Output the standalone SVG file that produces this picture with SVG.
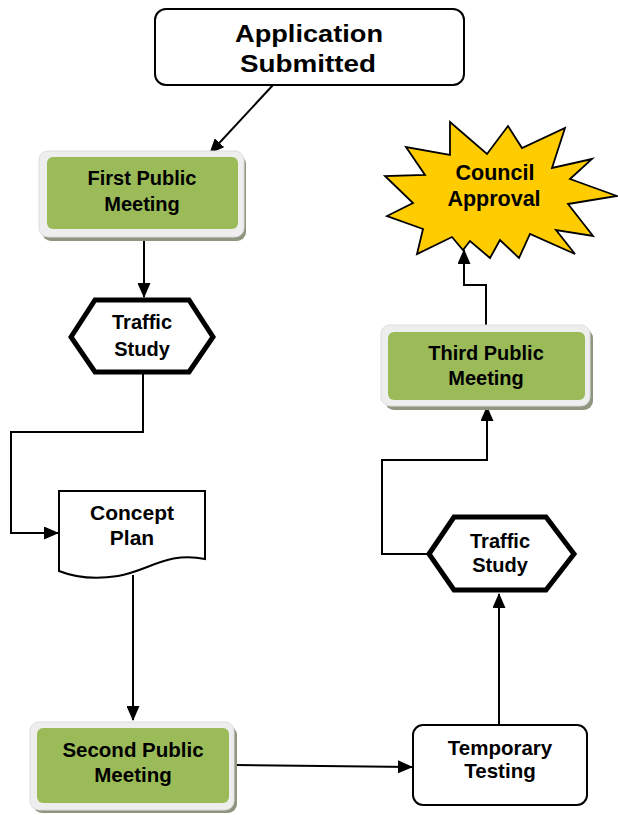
<svg xmlns="http://www.w3.org/2000/svg" width="618" height="815" viewBox="0 0 618 815">
<defs>
<marker id="ah" markerUnits="userSpaceOnUse" markerWidth="15" markerHeight="13" refX="14" refY="6.5" orient="auto">
<path d="M0,0 L15,6.5 L0,13 Z" fill="#000"/>
</marker>
<style>
.t{font-family:"Liberation Sans",Arial,sans-serif;font-weight:bold;text-anchor:middle;fill:#000}
.box{fill:#fff;stroke:#000;stroke-width:2}
.hex{fill:#fff;stroke:#000;stroke-width:5;stroke-linejoin:miter}
.shadow{fill:#8e9680}
.frame{fill:#eeeeee;stroke:#dcdcdc;stroke-width:1}
.green{fill:#9bbb59}
.conn{fill:none;stroke:#000;stroke-width:2;marker-end:url(#ah)}
</style>
</defs>
<g id="connectors">
<path class="conn" d="M273,85 L210,153"/>
<path class="conn" d="M144,238 L144,297"/>
<path class="conn" d="M143,374 V432 H11 V533 H58"/>
<path class="conn" d="M133,575 V720"/>
<path class="conn" d="M236,765 L412,767"/>
<path class="conn" d="M499,725 V594"/>
<path class="conn" d="M428,554 H382 V460 H487 V407"/>
<path class="conn" d="M486,325 V285 H464 V250"/>
</g>
<g id="application-submitted">
<rect class="box" x="155" y="9" width="309" height="76" rx="11"/>
<text class="t" x="309" y="42" font-size="24" textLength="148" lengthAdjust="spacingAndGlyphs">Application</text>
<text class="t" x="308" y="72" font-size="24" textLength="136" lengthAdjust="spacingAndGlyphs">Submitted</text>
</g>
<g id="first-public-meeting">
<rect class="shadow" x="42" y="155" width="204" height="86" rx="9"/>
<rect class="frame" x="39" y="151" width="205" height="86" rx="9"/>
<rect class="green" x="47" y="157" width="191" height="72" rx="6"/>
<text class="t" x="142" y="185" font-size="20">First Public</text>
<text class="t" x="142" y="211" font-size="20">Meeting</text>
</g>
<g id="traffic-study-1">
<polygon class="hex" points="71,337 95,300 189,300 213,337 189,372 95,372"/>
<text class="t" x="142" y="329" font-size="20">Traffic</text>
<text class="t" x="142" y="356" font-size="20">Study</text>
</g>
<g id="concept-plan">
<path d="M59,491 H205 V559 C168,551 148,571 118,576 C92,580 74,577 59,571 Z" fill="#fff" stroke="#000" stroke-width="2"/>
<text class="t" x="132" y="520" font-size="21">Concept</text>
<text class="t" x="132" y="545" font-size="21">Plan</text>
</g>
<g id="second-public-meeting">
<rect class="shadow" x="33" y="726" width="204" height="87" rx="9"/>
<rect class="frame" x="30" y="722" width="204" height="88" rx="9"/>
<rect class="green" x="37" y="728" width="192" height="75" rx="6"/>
<text class="t" x="133" y="757" font-size="20.5">Second Public</text>
<text class="t" x="133" y="782" font-size="20.5">Meeting</text>
</g>
<g id="temporary-testing">
<rect class="box" x="413" y="725" width="174" height="80" rx="10"/>
<text class="t" x="500" y="755" font-size="20.5">Temporary</text>
<text class="t" x="500" y="778" font-size="20.5">Testing</text>
</g>
<g id="traffic-study-2">
<polygon class="hex" points="429,554 454,517 546,517 574,554 546,590 454,590"/>
<text class="t" x="500" y="548" font-size="20">Traffic</text>
<text class="t" x="500" y="572" font-size="20">Study</text>
</g>
<g id="third-public-meeting">
<rect class="shadow" x="385" y="329" width="208" height="81" rx="9"/>
<rect class="frame" x="381" y="325" width="209" height="81" rx="9"/>
<rect class="green" x="388" y="332" width="197" height="68" rx="6"/>
<text class="t" x="486" y="360" font-size="20">Third Public</text>
<text class="t" x="486" y="385" font-size="20">Meeting</text>
</g>
<g id="council-approval">
<polygon points="450,122 487,154 508,126 522,148 565,128 552,168 592,159 570,179 617,196 568,204 593,236 556,230 575,254 530,234 519,258 500,240 490,258 470,241 463,250 452,237 417,254 423,229 387,216 413,203 385,176 425,175 406,147 450,155" fill="#ffcc00" stroke="#000" stroke-width="1.8" stroke-linejoin="miter"/>
<text class="t" x="495" y="180" font-size="21.5">Council</text>
<text class="t" x="494" y="206" font-size="21.5">Approval</text>
</g>
</svg>
